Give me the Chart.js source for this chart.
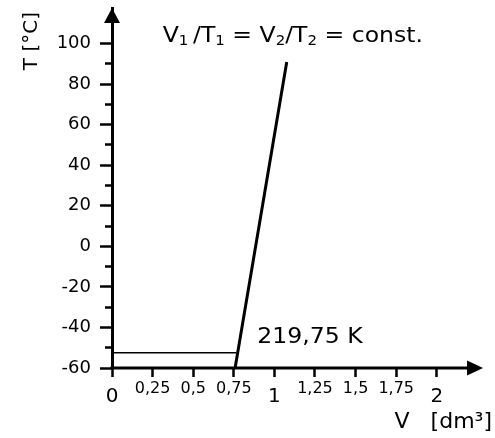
<!DOCTYPE html>
<html>
<head>
<meta charset="utf-8">
<script src="https://cdn.jsdelivr.net/npm/chart.js@4/dist/chart.umd.min.js"></script>
<style>
html,body{margin:0;padding:0;background:#fff;}
#wrap{width:495px;height:438px;}
</style>
</head>
<body>
<div id="wrap"><canvas id="c" width="495" height="438"></canvas></div>
<script>
// ---- data ----
const slopeVolume = [0.758, 1.076];        // dm³
const slopeTemp = [-60, 90.9];             // °C
const refVolume = [0, 0.765];              // dm³
const refTemp = [-52.5, -52.5];            // °C (219,75 K)

const xTickValues = [0, 0.25, 0.5, 0.75, 1, 1.25, 1.5, 1.75, 2];
const xTickLabels = ['0', '0,25', '0,5', '0,75', '1', '1,25', '1,5', '1,75', '2'];
const yTickValues = [-60, -40, -20, 0, 20, 40, 60, 80, 100];
const yTickLabels = ['-60', '-40', '-20', '0', '20', '40', '60', '80', '100'];

const xAxisMin = 0, xAxisMax = 2.34, xArrowTip = 2.285;
const yAxisMin = -60, yAxisMax = 117.56;

const lawText = [['V', 0], ['1', 1], ['\u2009/T', 0], ['1', 1], [' = V', 0], ['2', 1], ['/T', 0], ['2', 1], [' = const.', 0]];
const lawAnchor = {x: 0.312, y: 100.6};
const kelvinText = '219,75 K';
const kelvinAnchor = {x: 0.895, y: -47.8};

const FAMILY = 'DejaVu Sans';

const decorPlugin = {
  id: 'decor',
  beforeDraw(chart) {
    const ctx = chart.ctx;
    ctx.save();
    ctx.fillStyle = '#fff';
    ctx.fillRect(0, 0, chart.width, chart.height);
    ctx.restore();
  },
  afterDraw(chart) {
    const ctx = chart.ctx;
    const xs = chart.scales.x, ys = chart.scales.y;
    const ca = chart.chartArea;
    const x0 = xs.getPixelForValue(xAxisMin);
    const y0 = ys.getPixelForValue(yAxisMin);
    const tipX = xs.getPixelForValue(xArrowTip);
    ctx.save();
    ctx.fillStyle = '#000';
    ctx.strokeStyle = '#000';
    // x axis line
    ctx.lineWidth = 3;
    ctx.beginPath();
    ctx.moveTo(x0 - 1.5, y0);
    ctx.lineTo(tipX - 14, y0);
    ctx.stroke();
    // x arrow head
    ctx.beginPath();
    ctx.moveTo(tipX, y0);
    ctx.lineTo(tipX - 16, y0 - 7.5);
    ctx.lineTo(tipX - 16, y0 + 7.5);
    ctx.closePath();
    ctx.fill();
    // y arrow head
    ctx.beginPath();
    ctx.moveTo(x0, ca.top);
    ctx.lineTo(x0 - 8, ca.top + 15);
    ctx.lineTo(x0 + 8, ca.top + 15);
    ctx.closePath();
    ctx.fill();

    // law text
    ctx.textBaseline = 'alphabetic';
    ctx.textAlign = 'left';
    ctx.save();
    ctx.translate(xs.getPixelForValue(lawAnchor.x), ys.getPixelForValue(lawAnchor.y));
    ctx.scale(1.07, 1);
    let cx = 0;
    for (const [t, sub] of lawText) {
      ctx.font = (sub ? '14px ' : '22px ') + '"' + FAMILY + '"';
      ctx.fillText(t, cx, sub ? 3 : 0);
      cx += ctx.measureText(t).width;
    }
    ctx.restore();
    // kelvin label
    ctx.save();
    ctx.translate(xs.getPixelForValue(kelvinAnchor.x), ys.getPixelForValue(kelvinAnchor.y));
    ctx.scale(1.07, 1);
    ctx.font = '22px "' + FAMILY + '"';
    ctx.fillText(kelvinText, 0, 0);
    ctx.restore();
    ctx.restore();
  }
};

const isHiddenX = v => v > xTickValues[xTickValues.length - 1] + 1e-9;
const isHiddenY = v => v > yTickValues[yTickValues.length - 1] + 1e-9;

new Chart(document.getElementById('c'), {
  type: 'scatter',
  data: {
    datasets: [
      {
        data: slopeVolume.map((v, i) => ({x: v, y: slopeTemp[i]})),
        showLine: true, borderColor: '#000', borderWidth: 3, pointRadius: 0, clip: false
      },
      {
        data: refVolume.map((v, i) => ({x: v, y: refTemp[i]})),
        showLine: true, borderColor: '#000', borderWidth: 1.5, pointRadius: 0, clip: false
      }
    ]
  },
  options: {
    responsive: false,
    devicePixelRatio: 1,
    animation: false,
    layout: {padding: {top: 8, right: 3, left: 0, bottom: 0}},
    plugins: {legend: {display: false}, tooltip: {enabled: false}},
    scales: {
      x: {
        type: 'linear', min: xAxisMin, max: xAxisMax,
        afterFit(s) { s.height = 70; s.paddingLeft = 0; s.paddingRight = 0; },
        border: {display: false},
        grid: {
          drawOnChartArea: false, drawTicks: true, tickLength: 9, tickWidth: 2.5,
          tickColor: c => (c.tick && isHiddenX(c.tick.value)) ? 'rgba(0,0,0,0)' : '#000'
        },
        ticks: {
          stepSize: 0.25, includeBounds: false, autoSkip: false, maxRotation: 0, padding: 3, color: '#000',
          font: c => {
            const v = c.tick ? c.tick.value : 0;
            const big = Math.abs(v - Math.round(v)) < 1e-9;
            return {family: FAMILY, size: big ? 20 : 16, lineHeight: big ? '34px' : '17px'};
          },
          callback: v => {
            const i = xTickValues.findIndex(t => Math.abs(t - v) < 1e-9);
            return i >= 0 ? xTickLabels[i] : null;
          }
        },
        title: {
          display: true, text: 'V   [dm³]', align: 'end', color: '#000',
          font: {family: FAMILY, size: 22}, padding: {top: 0, bottom: 3}
        }
      },
      y: {
        type: 'linear', min: yAxisMin, max: yAxisMax,
        afterFit(s) { s.width = 112; s.paddingTop = 0; s.paddingBottom = 0; },
        border: {display: true, color: '#000', width: 3},
        grid: {
          drawOnChartArea: false, drawTicks: true, tickLength: 12, tickWidth: 2.5,
          tickColor: c => (c.tick && isHiddenY(c.tick.value)) ? 'rgba(0,0,0,0)' : '#000',
          tickBorderDash: c => (c.tick && Math.abs(c.tick.value % 20) > 1e-9) ? [0, 5, 30, 100] : []
        },
        ticks: {
          stepSize: 10, includeBounds: false, autoSkip: false, padding: 9, color: '#000',
          font: {family: FAMILY, size: 18},
          callback: v => {
            if (isHiddenY(v)) return null;
            const i = yTickValues.findIndex(t => Math.abs(t - v) < 1e-9);
            return i >= 0 ? yTickLabels[i] : '';
          }
        },
        title: {
          display: true, text: 'T [°C]\u2009', align: 'end', color: '#000',
          font: {family: FAMILY, size: 20}, padding: {top: 20, bottom: 0}
        }
      }
    }
  },
  plugins: [decorPlugin]
});
</script>
</body>
</html>
